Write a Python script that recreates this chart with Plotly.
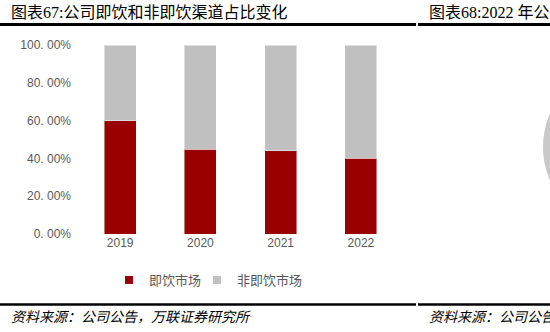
import plotly.graph_objects as go

W, H = 550, 332

years = ["2019", "2020", "2021", "2022"]
rtd_share = [0.598, 0.448, 0.441, 0.402]
non_rtd_share = [1 - v for v in rtd_share]
series_names = ["即饮市场", "非即饮市场"]
tick_vals = [0, 0.2, 0.4, 0.6, 0.8, 1.0]
tick_text = ["0. 00%", "20. 00%", "40. 00%", "60. 00%", "80. 00%", "100. 00%"]

RED = "#990000"
GRAY = "#C0C0C0"
TXT = "#595959"
CJK = "Liberation Serif, Noto Sans CJK SC, serif"
SANS = "Liberation Sans, Arial, Noto Sans CJK SC, sans-serif"

def px(x):
    return x / W

def py(y):
    return 1 - y / H

fig = go.Figure()
fig.add_bar(x=years, y=rtd_share, name=series_names[0], marker_color=RED,
            marker_line=dict(color="rgba(255,255,255,0.45)", width=1), showlegend=False)
fig.add_bar(x=years, y=non_rtd_share, name=series_names[1], marker_color=GRAY,
            marker_line=dict(color="rgba(255,255,255,0.45)", width=1), showlegend=False)
# legend entries with small square keys
for nm, col, lg in zip(series_names, [RED, GRAY], ["legend", "legend2"]):
    fig.add_scatter(x=[None], y=[None], mode="markers", name=nm, legend=lg,
                    marker=dict(symbol="square", size=8, color=col))

leg_common = dict(orientation="h", yanchor="middle", xanchor="left",
                  font=dict(family=SANS, size=13, color=TXT), itemwidth=30,
                  bgcolor="rgba(0,0,0,0)")

fig.update_layout(
    width=W, height=H,
    margin=dict(l=0, r=0, t=0, b=0, autoexpand=False),
    paper_bgcolor="white", plot_bgcolor="white",
    barmode="stack", bargap=0.6,
    showlegend=True,
    legend=dict(x=px(109), y=py(280), **leg_common),
    legend2=dict(x=px(197), y=py(280), **leg_common),
    xaxis=dict(domain=[px(80), px(401)], showgrid=False, zeroline=False, showline=False,
               automargin=False,
               tickfont=dict(family=SANS, size=12, color=TXT), ticks=""),
    yaxis=dict(domain=[py(234), py(45)], range=[0, 1], showgrid=False, zeroline=False,
               automargin=False,
               showline=False, tickvals=tick_vals, ticktext=tick_text, ticks="",
               tickfont=dict(family=SANS, size=12, color=TXT), ticklabelstandoff=8),
)

shapes = [
    dict(type="line", xref="paper", yref="paper", x0=0, x1=px(416), y0=py(24.5), y1=py(24.5),
         line=dict(color="black", width=3)),
    dict(type="line", xref="paper", yref="paper", x0=px(418), x1=1, y0=py(24.5), y1=py(24.5),
         line=dict(color="black", width=3)),
    dict(type="line", xref="paper", yref="paper", x0=0, x1=px(416), y0=py(304.5), y1=py(304.5),
         line=dict(color="black", width=2.5)),
    dict(type="line", xref="paper", yref="paper", x0=px(418), x1=1, y0=py(304.5), y1=py(304.5),
         line=dict(color="black", width=2.5)),
    dict(type="circle", xref="paper", yref="paper", x0=px(543), x1=px(711), y0=py(231), y1=py(63),
         fillcolor="#C8C8C8", line=dict(width=0)),
]
fig.update_layout(shapes=shapes)

anns = [
    dict(text="图表67:公司即饮和非即饮渠道占比变化", x=px(9), y=py(12), xanchor="left", yanchor="middle",
         font=dict(family=CJK, size=16, color="black")),
    dict(text="图表68:2022 年公", x=px(427), y=py(12), xanchor="left", yanchor="middle",
         font=dict(family=CJK, size=16, color="black")),
    dict(text="资料来源：公司公告，万联证券研究所", x=px(9), y=py(317), xanchor="left", yanchor="middle",
         font=dict(family=CJK, size=14, color="black", style="italic")),
    dict(text="资料来源：公司公告", x=px(427), y=py(317), xanchor="left", yanchor="middle",
         font=dict(family=CJK, size=14, color="black", style="italic")),
]
for a in anns:
    fig.add_annotation(xref="paper", yref="paper", showarrow=False, **a)

fig.write_html("out.html")
